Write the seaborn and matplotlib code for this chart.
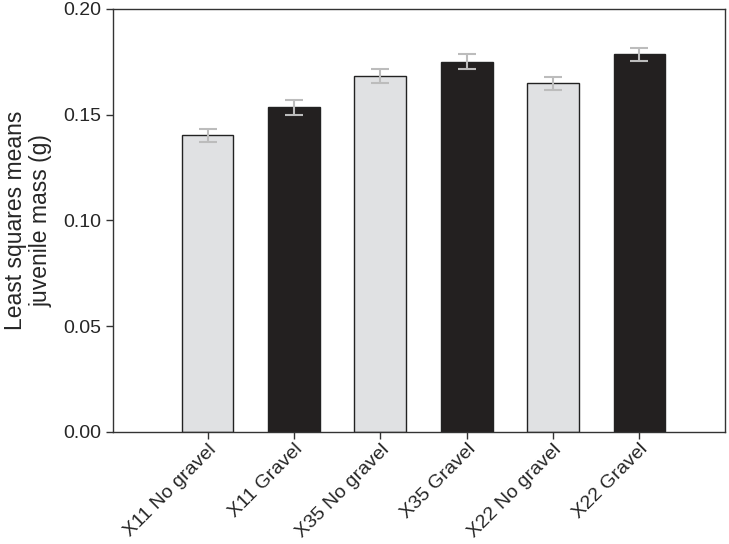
import matplotlib
matplotlib.use('Agg')
import matplotlib.pyplot as plt
import seaborn as sns
import pandas as pd

# data
groups = ['X11 No gravel', 'X11 Gravel', 'X35 No gravel', 'X35 Gravel', 'X22 No gravel', 'X22 Gravel']
means = [0.1403, 0.1535, 0.1685, 0.1750, 0.1648, 0.1785]
errors = [0.0030, 0.0034, 0.0033, 0.0035, 0.0030, 0.0031]
bar_colors = ['#e0e1e3', '#231f20', '#e0e1e3', '#231f20', '#e0e1e3', '#231f20']

sns.set_style('ticks')
plt.rcParams['font.family'] = ['Liberation Sans', 'DejaVu Sans']

df = pd.DataFrame({'group': groups, 'mean': means, 'err': errors})

fig = plt.figure(figsize=(7.29, 5.44), dpi=100)
ax = fig.add_axes([0.155, 0.206, 0.8395, 0.7775])

sns.barplot(data=df, x='group', y='mean', hue='group', palette=bar_colors,
            legend=False, width=0.6, edgecolor='#222222', linewidth=1.0,
            errorbar=None, ax=ax)

# error bars (SE) drawn over the bars
ax.errorbar(x=range(len(groups)), y=df['mean'], yerr=df['err'], fmt='none',
            ecolor='#bcbcbc', elinewidth=1.5, capsize=6.5, capthick=1.5, zorder=5)

ax.set_ylim(0, 0.20)
ax.set_yticks([0.00, 0.05, 0.10, 0.15, 0.20])
ax.set_yticklabels(['0.00', '0.05', '0.10', '0.15', '0.20'])
ax.set_xlim(-1.095, 5.99)

ax.set_xlabel('')
ax.set_ylabel('Least squares means\njuvenile mass (g)', fontsize=16.5, linespacing=1.1, labelpad=8)

for lab in ax.get_xticklabels():
    lab.set_rotation(45)
    lab.set_ha('right')
    lab.set_va('top')
    lab.set_rotation_mode('anchor')
    lab.set_fontsize(14)

ax.tick_params(axis='y', labelsize=14)
ax.tick_params(axis='both', direction='out', length=5, width=1, color='#333333')
ax.tick_params(axis='x', pad=1.5)

for side in ['top', 'right', 'bottom', 'left']:
    ax.spines[side].set_visible(True)
    ax.spines[side].set_color('#333333')
    ax.spines[side].set_linewidth(1.0)

fig.savefig('out.png', dpi=100)
